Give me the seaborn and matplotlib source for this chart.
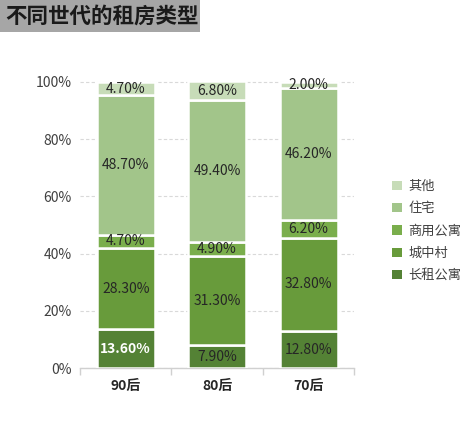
import numpy as np
import seaborn as sns
import matplotlib.pyplot as plt
from matplotlib.patches import Patch, Rectangle
from matplotlib.ticker import FuncFormatter

# ------------------ DATA ------------------
generations = ['90后', '80后', '70后']
types = ['长租公寓', '城中村', '商用公寓', '住宅', '其他']
long_rent = [13.6, 7.9, 12.8]
urban_village = [28.3, 31.3, 32.8]
commercial_apt = [4.7, 4.9, 6.2]
residential = [48.7, 49.4, 46.2]
other = [4.7, 6.8, 2.0]
series = [long_rent, urban_village, commercial_apt, residential, other]

colors = ['#548235', '#689b3b', '#7aae4c', '#a2c58a', '#c7dcb8']

# ------------------ STYLE ------------------
sns.set_theme(style='white')
plt.rcParams['font.family'] = ['Noto Sans CJK SC', 'DejaVu Sans']

fig = plt.figure(figsize=(4.72, 4.32), dpi=100)
ax = fig.add_axes([0.1695, 0.148, 0.581, 0.666])

x = np.arange(len(generations))
bottom = np.zeros(len(generations))
for vals, color in zip(series, colors):
    vals = np.array(vals)
    ax.bar(x, vals, width=0.635, bottom=bottom, color=color,
           edgecolor='white', linewidth=1.8, zorder=3)
    for xi, b, v in zip(x, bottom, vals):
        bold = (xi == 0 and v == 13.6)
        ax.text(xi, b + v / 2, f'{v:.2f}%', ha='center', va='center',
                fontsize=10, color='white' if bold else '#262626',
                fontweight='bold' if bold else 'normal', zorder=4)
    bottom += vals

ax.set_xlim(-0.5, 2.5)
ax.set_ylim(0, 100.5)
ax.set_yticks([0, 20, 40, 60, 80, 100])
ax.yaxis.set_major_formatter(FuncFormatter(lambda v, _: f'{v:.0f}%'))
ax.tick_params(axis='y', length=0, labelsize=10, labelcolor='#404040', pad=6)

ax.set_xticks(x)
ax.set_xticklabels(generations, fontsize=10, fontweight='bold', color='#262626')
ax.tick_params(axis='x', length=0, pad=8)
ax.set_xticks([-0.5, 0.5, 1.5, 2.5], minor=True)
ax.tick_params(axis='x', which='minor', length=5, color='#d0d0d0', width=1, bottom=True)

ax.grid(axis='y', linestyle=(0, (3, 2)), color='#d9d9d9', linewidth=0.8, zorder=0)
for side in ['top', 'right', 'left']:
    ax.spines[side].set_visible(False)
ax.spines['bottom'].set_color('#d0d0d0')
ax.spines['bottom'].set_linewidth(1)

handles = [Patch(facecolor=c, edgecolor='none', label=t) for t, c in zip(types, colors)]
fig.legend(handles=handles[::-1], loc='center left', bbox_to_anchor=(0.806, 0.465),
           frameon=False, fontsize=9.5, handlelength=0.7, handleheight=0.7,
           handletextpad=0.5, labelspacing=0.7, labelcolor='#404040')

# title box
fig.patches.append(Rectangle((0, 1 - 32 / 432), 200 / 472, 32 / 432,
                             transform=fig.transFigure, facecolor='#a6a6a6',
                             edgecolor='none', zorder=0))
fig.text(5 / 472, 1 - 16 / 432, '不同世代的租房类型', fontsize=15.5, fontweight='bold',
         color='#1a1a1a', va='center', ha='left')

fig.savefig('out.png', dpi=100)
